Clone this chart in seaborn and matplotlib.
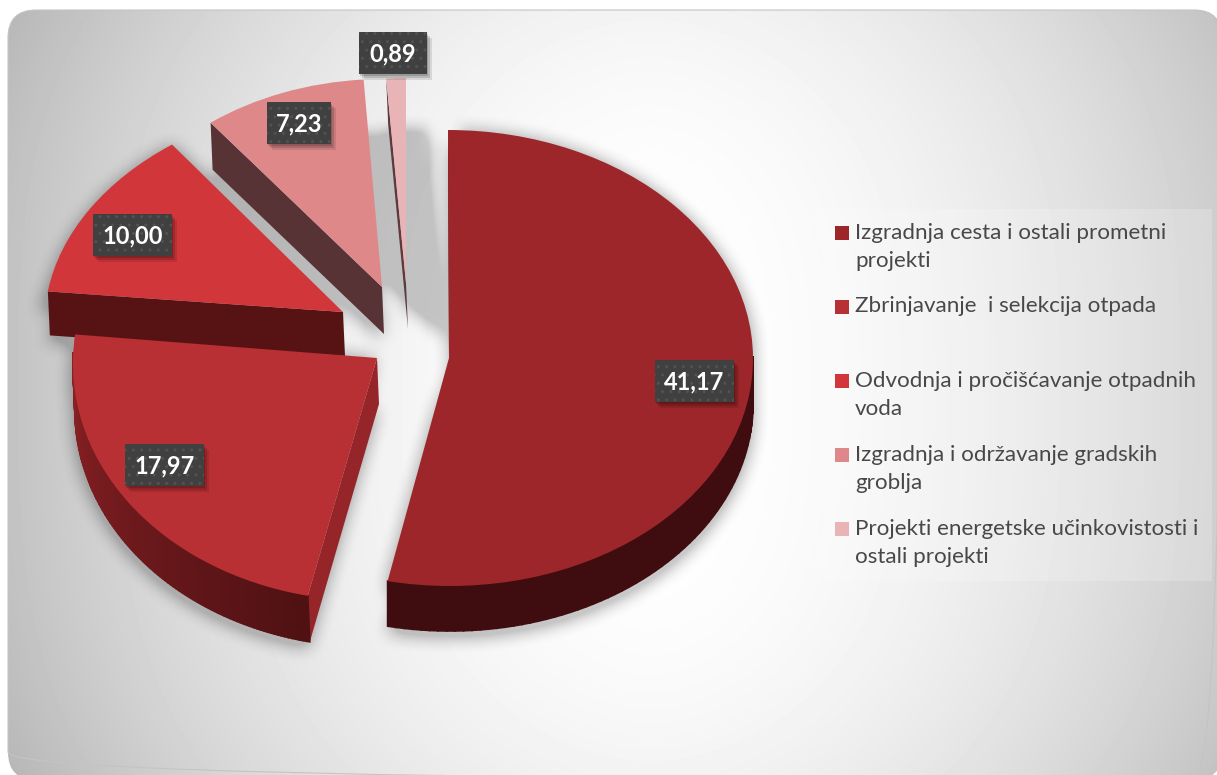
import numpy as np
import matplotlib
matplotlib.use("Agg")
import matplotlib.pyplot as plt
from matplotlib.colors import to_rgb
from matplotlib.patches import FancyBboxPatch, Rectangle
from matplotlib.path import Path
from matplotlib.transforms import Affine2D
import seaborn as sns

# ---- data ----
categories = ["Izgradnja cesta i ostali prometni\nprojekti",
              "Zbrinjavanje  i selekcija otpada",
              "Odvodnja i pročišćavanje otpadnih\nvoda",
              "Izgradnja i održavanje gradskih\ngroblja",
              "Projekti energetske učinkovistosti i\nostali projekti"]
values = [41.17, 17.97, 10.00, 7.23, 0.89]
value_labels = ["41,17", "17,97", "10,00", "7,23", "0,89"]
top_colors = ["#9c2629", "#b82f34", "#d0363a", "#de888a", "#e8b4b6"]
rim_colors = ["#3f0d0f", "#7a1c1f", "#571313", "#573336", "#5c3a3e"]
face_colors = ["#3f0d0f", "#96252a", "#571313", "#573336", "#5c3a3e"]

sns.set_theme(style="white")
plt.rcParams["font.family"] = ["Lato", "DejaVu Sans"]
plt.rcParams["hatch.linewidth"] = 1.0
W, H = 1217, 775

# ---- layout: per-slice projection (tip x, tip y, x radius, x shear, y radius) ----
geom = [(449, 358, 304, -1, 228),
        (377, 358, 304, 7, 243),
        (343, 312, 298, 15, 212),
        (382, 287, 282, 2, 208),
        (406, 283, 274, 0, 205)]
depth = [45, 46, 44, 47, 46]
wall_dx = [0, 2, 2, 2, 0]
shadow_shift = [(0, 12), (-3, 14), (-8, 20), (62, 50), (24, 53)]
shadow_sweep = [(0, 0.5, 1.0), (0, 0.5, 1.0), (0, 0.5, 1.0), (1.0,), (1.0,)]
label_pos = [(694.5, 381), (164.5, 465), (132.5, 234.5), (299, 122.5), (393, 53)]
label_half = [39.5, 39.5, 39.5, 32, 34]

fig = plt.figure(figsize=(W / 100, H / 100), dpi=100)
fig.patch.set_facecolor("white")
ax = fig.add_axes([0, 0, 1, 1])

wedges, _ = ax.pie(values, startangle=90, counterclock=False, colors=top_colors,
                   radius=1, wedgeprops=dict(linewidth=0))
ax.set_aspect("auto")
ax.set_xlim(0, W)
ax.set_ylim(H, 0)
ax.axis("off")


def rim(i, t_deg):
    tx, ty, rx, sh, ry = geom[i]
    t = np.radians(t_deg)
    return np.column_stack([tx + rx * np.cos(t) + sh * np.sin(t), ty - ry * np.sin(t)])


def outline(i):
    w = wedges[i]
    t = np.linspace(w.theta2, w.theta1, 120)
    tx, ty = geom[i][:2]
    return np.vstack([[tx, ty], rim(i, t)])


# ---- background panel ----
yy, xx = np.mgrid[0:H, 0:W]
u = np.abs(xx - 650) / 600.0
v = np.abs(yy - 390) / 390.0
shade = 1 - (0.21 * u ** 1.8 + 0.05 * v ** 3)
panel = FancyBboxPatch((8, 10), W + 5 - 8, H + 5 - 10, boxstyle="round,pad=0,rounding_size=28",
                       fc="none", ec="#c4c4c4", lw=0.8, zorder=1)
ax.add_patch(panel)
bg = ax.imshow(shade, cmap="gray", vmin=0, vmax=1, extent=(0, W, H, 0), aspect="auto", zorder=0,
               interpolation="bilinear")
bg.set_clip_path(panel)

# ---- soft shadow behind the solid ----
pts = np.column_stack([xx.ravel(), yy.ravel()])
mask = np.zeros((H, W))
for i in range(5):
    o = outline(i)
    sx0, sy0 = shadow_shift[i]
    for f in shadow_sweep[i]:
        m = Path(o + [sx0 * f, sy0 * f]).contains_points(pts).reshape(H, W)
        mask = np.maximum(mask, m)
    m = Path(o + [0, depth[i] + 6]).contains_points(pts).reshape(H, W)
    mask = np.maximum(mask, m)


def blur(a, r):
    k = np.ones(2 * r + 1) / (2 * r + 1)
    for _ in range(2):
        a = np.apply_along_axis(lambda c: np.convolve(c, k, mode="same"), 0, a)
        a = np.apply_along_axis(lambda c: np.convolve(c, k, mode="same"), 1, a)
    return a


sh_a = np.clip(blur(mask, 9) * 1.8, 0, 1) * 0.21
glow = np.exp(-(((xx - 412) / 30.0) ** 2 + ((yy - 372) / 28.0) ** 2))
glow2 = np.exp(-(((xx - 446) / 16.0) ** 2 + ((yy - 128) / 24.0) ** 2))
sh_a = sh_a * (1 - np.clip(glow * 1.3 + glow2, 0, 1))
rgba = np.zeros((H, W, 4))
rgba[..., 3] = sh_a
sim = ax.imshow(rgba, extent=(0, W, H, 0), aspect="auto", zorder=2)
sim.set_clip_path(panel)
ax.set_xlim(0, W)
ax.set_ylim(H, 0)

# ---- extruded sides and top faces, back to front ----
order = [4, 3, 2, 1, 0]
for z, i in enumerate(order):
    base = 3 + z * 2
    w = wedges[i]
    d = depth[i]
    dx = wall_dx[i]
    tx, ty = geom[i][:2]
    start = rim(i, np.array([w.theta2]))[0]
    fdx = max(dx, 2)
    ax.fill([tx, start[0], start[0] + fdx, tx + fdx], [ty, start[1], start[1] + d, ty + d],
            color=face_colors[i], lw=0, zorder=base)
    ts = np.linspace(w.theta2, w.theta1, 121)
    r = rim(i, ts)
    for k in range(len(ts) - 1):
        if np.sin(np.radians(ts[k])) > 0.02:
            continue
        col = np.array(to_rgb(rim_colors[i]))
        if i == 1:  # gradient along the outer wall
            f = (ts[k] - ts[0]) / (ts[-1] - ts[0])
            col = np.array(to_rgb("#4f1113")) * (1 - f) + np.array(to_rgb("#8e2226")) * f
        a, b = r[k], r[k + 1]
        ax.fill([a[0], b[0], b[0] + dx, a[0] + dx], [a[1], b[1], b[1] + d, a[1] + d],
                color=col, lw=1.2, zorder=base)
    sx, skew, sy = geom[i][2], geom[i][3], geom[i][4]
    T = Affine2D.from_values(sx, 0, skew, -sy, tx, ty)
    w.set_transform(T + ax.transData)
    w.set_zorder(base + 1)

# ---- value labels ----
for (x, y), s, half in zip(label_pos, value_labels, label_half):
    for off, al in ((6, 0.10), (4, 0.14), (2, 0.16)):
        ax.add_patch(Rectangle((x - half + off - 1, y - 21 + off), 2 * half, 42, fc="black",
                               alpha=al, lw=0, zorder=19))
    ax.add_patch(Rectangle((x - half, y - 21), 2 * half, 42, fc="#404040", ec="#525252", lw=0,
                           hatch="..", zorder=20))
    ax.text(x, y + 1, s, color="white", fontsize=17, fontweight="bold", ha="center", va="center", zorder=21)

# ---- legend ----
ax.add_patch(Rectangle((823, 209), 389, 372, fc="white", alpha=0.2, lw=0, zorder=3))
leg_y = [247, 306, 395, 469, 543]
for y, s, c in zip(leg_y, categories, top_colors):
    first_line = y - 14 if "\n" in s else y + 1
    ax.add_patch(Rectangle((835, first_line - 7), 14, 14, fc=c, lw=0, zorder=4))
    ax.text(855, y, s, fontsize=16.1, color="#484848", ha="left", va="center", linespacing=1.5, zorder=4)

fig.savefig("out.png", dpi=100)
